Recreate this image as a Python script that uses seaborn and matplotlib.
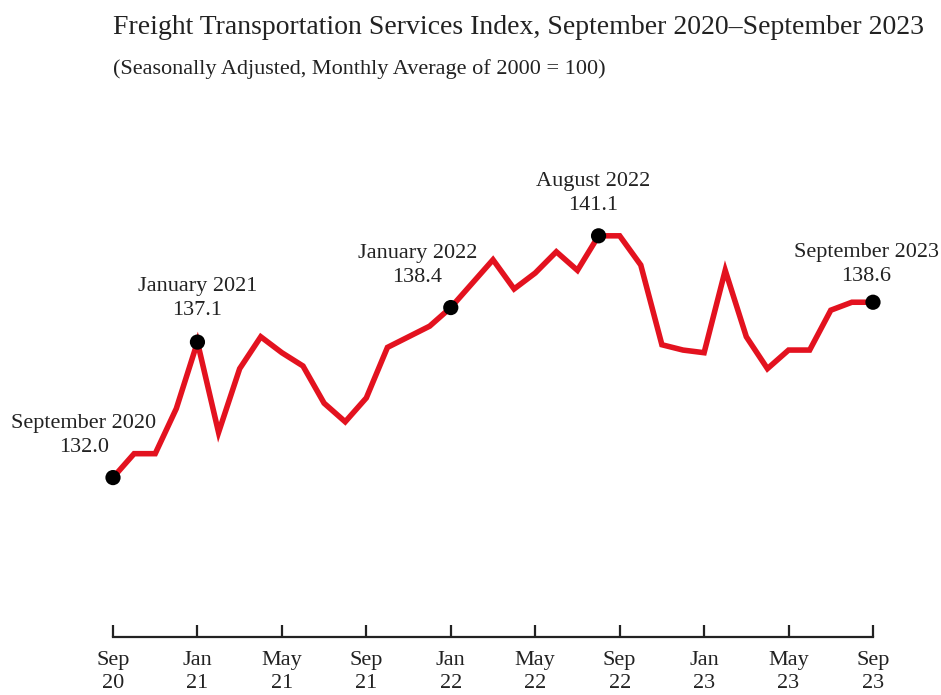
import numpy as np
import pandas as pd
import matplotlib
matplotlib.use("Agg")
import matplotlib.pyplot as plt
import seaborn as sns

# 数据: 2020年9月 - 2023年9月 月度指数
months = pd.date_range("2020-09-01", "2023-09-01", freq="MS")
index_values = [132.0, 132.9, 132.9, 134.6, 137.1, 133.7, 136.1, 137.3, 136.7,
                136.2, 134.8, 134.1, 135.0, 136.9, 137.3, 137.7, 138.4, 139.3,
                140.2, 139.1, 139.7, 140.5, 139.8, 141.1, 141.1, 140.0, 137.0,
                136.8, 136.7, 139.8, 137.3, 136.1, 136.8, 136.8, 138.3, 138.6,
                138.6]
tick_labels = ["Sep\n20", "Jan\n21", "May\n21", "Sep\n21", "Jan\n22",
               "May\n22", "Sep\n22", "Jan\n23", "May\n23", "Sep\n23"]
highlight_idx = [0, 4, 16, 23, 36]
highlight_names = ["September 2020", "January 2021", "January 2022",
                   "August 2022", "September 2023"]

df = pd.DataFrame({"month_no": np.arange(len(months)), "value": index_values})

sns.set_theme(style="white")
plt.rcParams['font.family'] = ['Liberation Serif', 'DejaVu Serif']

fig = plt.figure(figsize=(9.41, 6.95), dpi=100)
ax = fig.add_axes([113 / 941, 58 / 695, 760 / 941, 487 / 695])

sns.lineplot(data=df, x="month_no", y="value", ax=ax, color="#e3121f",
             linewidth=4.0, solid_joinstyle="miter")

hl = df.iloc[highlight_idx]
sns.scatterplot(data=hl, x="month_no", y="value", ax=ax, color="black",
                s=120, edgecolor="none", zorder=5, clip_on=False)

# 标注 (偏移单位: 点)
offsets = [(-21, 15), (0, 16), (-24, 15), (-4, 15), (-5, 12)]
for (i, name), off in zip(zip(highlight_idx, highlight_names), offsets):
    ax.annotate(f"{name}\n{index_values[i]:.1f}", (i, index_values[i]),
                xytext=off, textcoords="offset points", ha="center",
                va="bottom", fontsize=16, color="#222222", linespacing=1.35,
                annotation_clip=False)

ax.set_xlim(0, 36)
ax.set_ylim(126.0, 144.33)
ax.set_xticks(np.arange(0, 37, 4))
ax.set_xticklabels(tick_labels, fontsize=16, color="#222222", linespacing=1.3)
ax.set_yticks([])
ax.set_xlabel("")
ax.set_ylabel("")
for s in ["top", "left", "right"]:
    ax.spines[s].set_visible(False)
ax.spines["bottom"].set_color("#222222")
ax.spines["bottom"].set_linewidth(1.6)
ax.tick_params(axis="x", bottom=True, direction="in", length=9, width=1.6,
               color="#222222", pad=10)

fig.text(113 / 941, 1 - 27 / 695, "Freight Transportation Services Index, "
         "September 2020\u2013September 2023", fontsize=20, va="center",
         ha="left", color="#222222")
fig.text(113 / 941, 1 - 69 / 695, "(Seasonally Adjusted, Monthly Average "
         "of 2000 = 100)", fontsize=16, va="center", ha="left",
         color="#222222")

fig.savefig("out.png", dpi=100)
